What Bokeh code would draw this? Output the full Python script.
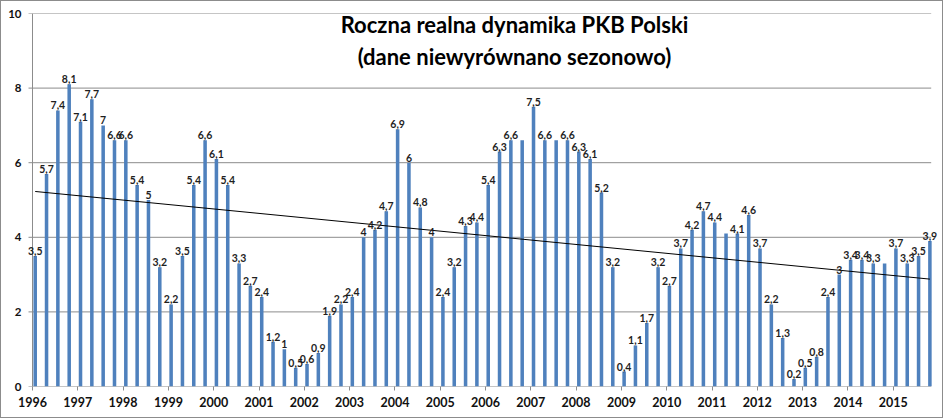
import numpy as np
from bokeh.plotting import figure
from bokeh.models import ColumnDataSource, FixedTicker, Label, Range1d
from bokeh.core.properties import value
from bokeh.embed import file_html
from bokeh.resources import INLINE

# ---- data ----
years = list(range(1996, 2016))
gdp = [
    3.5, 5.7, 7.4, 8.1,   # 1996
    7.1, 7.7, 7.0, 6.6,   # 1997
    6.6, 5.4, 5.0, 3.2,   # 1998
    2.2, 3.5, 5.4, 6.6,   # 1999
    6.1, 5.4, 3.3, 2.7,   # 2000
    2.4, 1.2, 1.0, 0.5,   # 2001
    0.6, 0.9, 1.9, 2.2,   # 2002
    2.4, 4.0, 4.2, 4.7,   # 2003
    6.9, 6.0, 4.8, 4.0,   # 2004
    2.4, 3.2, 4.3, 4.4,   # 2005
    5.4, 6.3, 6.6, 6.6,   # 2006
    7.5, 6.6, 6.6, 6.6,   # 2007
    6.3, 6.1, 5.2, 3.2,   # 2008
    0.4, 1.1, 1.7, 3.2,   # 2009
    2.7, 3.7, 4.2, 4.7,   # 2010
    4.4, 4.1, 4.1, 4.6,   # 2011
    3.7, 2.2, 1.3, 0.2,   # 2012
    0.5, 0.8, 2.4, 3.0,   # 2013
    3.4, 3.4, 3.3, 3.3,   # 2014
    3.7, 3.3, 3.5, 3.9,   # 2015
]
# quarters whose value label is not shown in the original chart
hidden_labels = [43, 46, 61, 75]
y_ticks = [0, 2, 4, 6, 8, 10]
title_lines = ["Roczna realna dynamika PKB Polski", "(dane niewyrównano sezonowo)"]

# ---- derived ----
n = len(gdp)
xs = [years[0] + i / 4 + 0.06 for i in range(n)]


def fmt(v):
    s = ("%.1f" % v).rstrip("0").rstrip(".")
    return s.replace(".", ",")


labels = ["" if i in hidden_labels else fmt(v) for i, v in enumerate(gdp)]
src = ColumnDataSource(dict(x=xs, top=gdp, label=labels))

slope, intercept = np.polyfit(xs, gdp, 1)
tx = [xs[0], xs[-1]]
ty = [slope * t + intercept for t in tx]

FONT = "Lato"
GRID = "#8c8c8c"
PX = 45.3                      # pixels per year
axis_start = years[0]
axis_end = years[0] + 898.7 / PX
tick_len = 4 / PX

# the frame is a little wider than the axes so that edge labels are not clipped
x_start = axis_start - 8 / PX
x_end = x_start + 915 / PX

p = figure(width=943, height=418, output_backend="svg", toolbar_location=None,
           x_range=Range1d(x_start, x_end), y_range=Range1d(0, 10),
           min_border_left=23, min_border_right=5, min_border_top=12, min_border_bottom=33)
p.outline_line_color = None
p.background_fill_color = "white"
p.border_fill_color = "white"
p.styles = {"border": "1px solid #8c8c8c", "box-sizing": "border-box"}

# gridlines (and the zero axis line) spanning only the axis extent
p.segment(x0=[axis_start - tick_len] * len(y_ticks), y0=y_ticks,
          x1=[axis_end] * len(y_ticks), y1=y_ticks,
          line_color=GRID, line_width=1)
# vertical axis line
p.segment(x0=[axis_start], y0=[y_ticks[0]], x1=[axis_start], y1=[y_ticks[-1]],
          line_color=GRID, line_width=1)

p.vbar(x="x", top="top", width=0.078, bottom=0, source=src,
       fill_color="#4F81BD", line_color=None)
p.line(tx, ty, line_color="black", line_width=1)

p.text(x="x", y="top", text="label", source=src, text_align="center",
       text_baseline="alphabetic", y_offset=-5,
       text_font=value(FONT), text_font_style="bold", text_font_size="10.5px",
       text_color="#1f1f1f")

# axes
p.xaxis.ticker = FixedTicker(ticks=years)
p.xaxis.minor_tick_line_color = None
p.xaxis.major_tick_in = 0
p.xaxis.major_tick_out = 4
p.xaxis.axis_line_color = None
p.xaxis.major_tick_line_color = GRID
p.xaxis.major_label_standoff = 6
p.xaxis.major_label_text_font = FONT
p.xaxis.major_label_text_font_style = "bold"
p.xaxis.major_label_text_font_size = "12.5px"
p.xaxis.major_label_text_color = "#111111"

p.yaxis.ticker = FixedTicker(ticks=y_ticks)
p.yaxis.minor_tick_line_color = None
p.yaxis.major_tick_in = 0
p.yaxis.major_tick_out = 0
p.yaxis.axis_line_color = None
p.yaxis.major_tick_line_color = None
p.yaxis.major_label_standoff = 3
p.yaxis.major_label_text_font = FONT
p.yaxis.major_label_text_font_style = "bold"
p.yaxis.major_label_text_font_size = "11.5px"
p.yaxis.major_label_text_color = "#111111"

p.xgrid.grid_line_color = None
p.ygrid.grid_line_color = None

# title inside the plot area
for line, yy in zip(title_lines, [9.71, 8.86]):
    p.add_layout(Label(x=2006.64, y=yy, text=line, text_align="center",
                       text_baseline="middle", text_font=FONT,
                       text_font_style="bold", text_font_size="22px",
                       text_color="black"))

open("out.html", "w").write(file_html(p, INLINE))
